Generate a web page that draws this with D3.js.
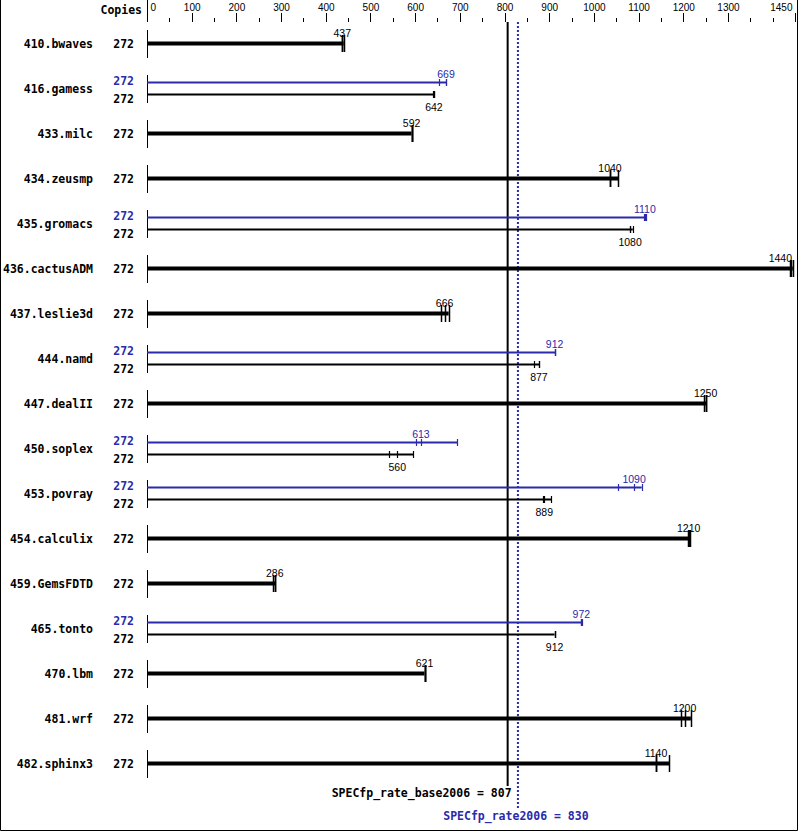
<!DOCTYPE html>
<html><head><meta charset="utf-8">
<script src="https://cdn.jsdelivr.net/npm/d3@7/dist/d3.min.js"></script>
<style>body{margin:0;background:#fff}svg{display:block}</style>
</head><body>
<script>
const benchmarks = ["410.bwaves","416.gamess","433.milc","434.zeusmp","435.gromacs","436.cactusADM","437.leslie3d","444.namd","447.dealII","450.soplex","453.povray","454.calculix","459.GemsFDTD","465.tonto","470.lbm","481.wrf","482.sphinx3"];
const baseCopies = [272,272,272,272,272,272,272,272,272,272,272,272,272,272,272,272,272];
const peakCopies = [null,272,null,null,272,null,null,272,null,272,272,null,null,272,null,null,null];
const baseRuns = [[436,437,440],[640,642,643],[592,592,592],[1036,1036,1054],[1080,1081,1087],[1438,1440,1445],[658,666,675],[865,877,878],[1246,1250,1251],[542,560,596],[885,889,905],[1210,1212,1214],[283,286,287],[912,912,912],[621,621,621],[1195,1203,1217],[1138,1139,1168]];
const peakRuns = [null,[654,669,670],null,null,[1113,1114,1116],null,null,[912,912,913],null,[602,613,694],[1054,1090,1107],null,null,[971,972,973],null,null,null];
const majorTicks = [0,100,200,300,400,500,600,700,800,900,1000,1100,1200,1300,1450];
const minorTicks = [50,150,250,350,450,550,650,750,850,950,1050,1150,1250,1350,1400];
const baseScore = 807, peakScore = 830;
const baseLabel = "SPECfp_rate_base2006", peakLabel = "SPECfp_rate2006";

const W = 799, H = 831, BLUE = "#2a2aaa";
const mono = "'DejaVu Sans Mono', monospace", sans = "'Liberation Sans', Arial, sans-serif";
const svg = d3.select("body").append("svg").attr("width", W).attr("height", H);
const x = d3.scaleLinear().domain([0, 1450]).range([147, 795]);
const rowY = i => 43.5 + 45 * i;
const fmt = d3.format(".3r");
const median = a => d3.median(a);

// border
svg.append("path").attr("d", `M0.5,0 V${H-0.5} H${W-1.5} V0`).attr("fill","none").attr("stroke","#000");

// top axis
const axMaj = svg.append("g").attr("transform","translate(0,22)")
  .call(d3.axisTop(x).tickValues(majorTicks).tickSize(9).tickPadding(2).tickFormat(d3.format("d")));
axMaj.select(".domain").remove();
axMaj.selectAll("line").attr("stroke","#000").attr("shape-rendering","crispEdges");
axMaj.selectAll("text").attr("font-family", sans).attr("font-size", 10).attr("fill","#000")
  .attr("y", -11).attr("dy", 0);
axMaj.selectAll(".tick").each(function(d){
  const t = d3.select(this).select("text");
  const bb = t.node().getBBox(); const cx = x(d);
  let left = cx + bb.x;
  if (left < 150) t.attr("text-anchor","start").attr("x", 3);
  else if (left + bb.width > 792) t.attr("text-anchor","end").attr("x", 792 - cx);
});
const axMin = svg.append("g").attr("transform","translate(0,22)")
  .call(d3.axisTop(x).tickValues(minorTicks).tickSize(4).tickFormat(""));
axMin.select(".domain").remove();
axMin.selectAll("line").attr("stroke","#000").attr("shape-rendering","crispEdges");
svg.append("line").attr("x1", x(0)).attr("x2", x(0)).attr("y1", 0).attr("y2", 22)
  .attr("stroke","#000").attr("shape-rendering","crispEdges");
svg.append("text").attr("x", 142).attr("y", 14).attr("text-anchor","end")
  .attr("font-family", mono).attr("font-weight","bold").attr("font-size", 11.5).text("Copies");

// reference lines
svg.append("line").attr("x1", x(baseScore)).attr("x2", x(baseScore)).attr("y1", 22).attr("y2", 786)
  .attr("stroke","#000").attr("stroke-width", 2);
svg.append("line").attr("x1", x(peakScore)).attr("x2", x(peakScore)).attr("y1", 22).attr("y2", 808)
  .attr("stroke", BLUE).attr("stroke-width", 2).attr("stroke-dasharray","2,2");

function valueLabel(g, v, y, color) {
  const t = g.append("text").attr("x", x(v)).attr("y", y).attr("text-anchor","middle")
    .attr("font-family", sans).attr("font-size", 10.5).attr("fill", color).text(fmt(v));
  const bb = t.node().getBBox();
  if (bb.x + bb.width > 792) t.attr("text-anchor","end").attr("x", 792);
}
function bar(g, runs, y, thick, color) {
  const mx = d3.max(runs);
  g.append("line").attr("x1", x(0)).attr("x2", x(mx)).attr("y1", y).attr("y2", y)
    .attr("stroke", color).attr("stroke-width", thick ? 4 : 2);
  const h = thick ? 8.5 : 3.5;
  g.selectAll(null).data(runs).join("line")
    .attr("x1", d => Math.round(x(d)) + 0.5).attr("x2", d => Math.round(x(d)) + 0.5)
    .attr("y1", y - h).attr("y2", y + h).attr("stroke", color).attr("stroke-width", thick ? 1.5 : 1.2);
}

benchmarks.forEach((name, i) => {
  const c = rowY(i);
  const g = svg.append("g");
  g.append("line").attr("x1", x(0)).attr("x2", x(0)).attr("y1", c - 14).attr("y2", c + 14)
    .attr("stroke","#000").attr("shape-rendering","crispEdges");
  g.append("text").attr("x", 93).attr("y", c + 4).attr("text-anchor","end")
    .attr("font-family", mono).attr("font-weight","bold").attr("font-size", 11.5).text(name);
  if (peakRuns[i]) {
    g.append("text").attr("x", 134).attr("y", c - 4).attr("text-anchor","end").attr("fill", BLUE)
      .attr("font-family", mono).attr("font-weight","bold").attr("font-size", 11.5).text(peakCopies[i]);
    g.append("text").attr("x", 134).attr("y", c + 14).attr("text-anchor","end")
      .attr("font-family", mono).attr("font-weight","bold").attr("font-size", 11.5).text(baseCopies[i]);
    bar(g, peakRuns[i], c - 6, false, BLUE);
    bar(g, baseRuns[i], c + 6, false, "#000");
    valueLabel(g, median(peakRuns[i]), c - 11, BLUE);
    valueLabel(g, median(baseRuns[i]), c + 22, "#000");
  } else {
    g.append("text").attr("x", 134).attr("y", c + 4).attr("text-anchor","end")
      .attr("font-family", mono).attr("font-weight","bold").attr("font-size", 11.5).text(baseCopies[i]);
    bar(g, baseRuns[i], c, true, "#000");
    valueLabel(g, median(baseRuns[i]), c - 7, "#000");
  }
});

// bottom labels
svg.append("text").attr("x", x(baseScore) + 4).attr("y", 797).attr("text-anchor","end")
  .attr("font-family", mono).attr("font-weight","bold").attr("font-size", 11.5)
  .text(`${baseLabel} = ${baseScore}`);
svg.append("text").attr("x", x(peakScore) - 2).attr("y", 820).attr("text-anchor","middle").attr("fill", BLUE)
  .attr("font-family", mono).attr("font-weight","bold").attr("font-size", 11.5)
  .text(`${peakLabel} = ${peakScore}`);
</script>
</body></html>
